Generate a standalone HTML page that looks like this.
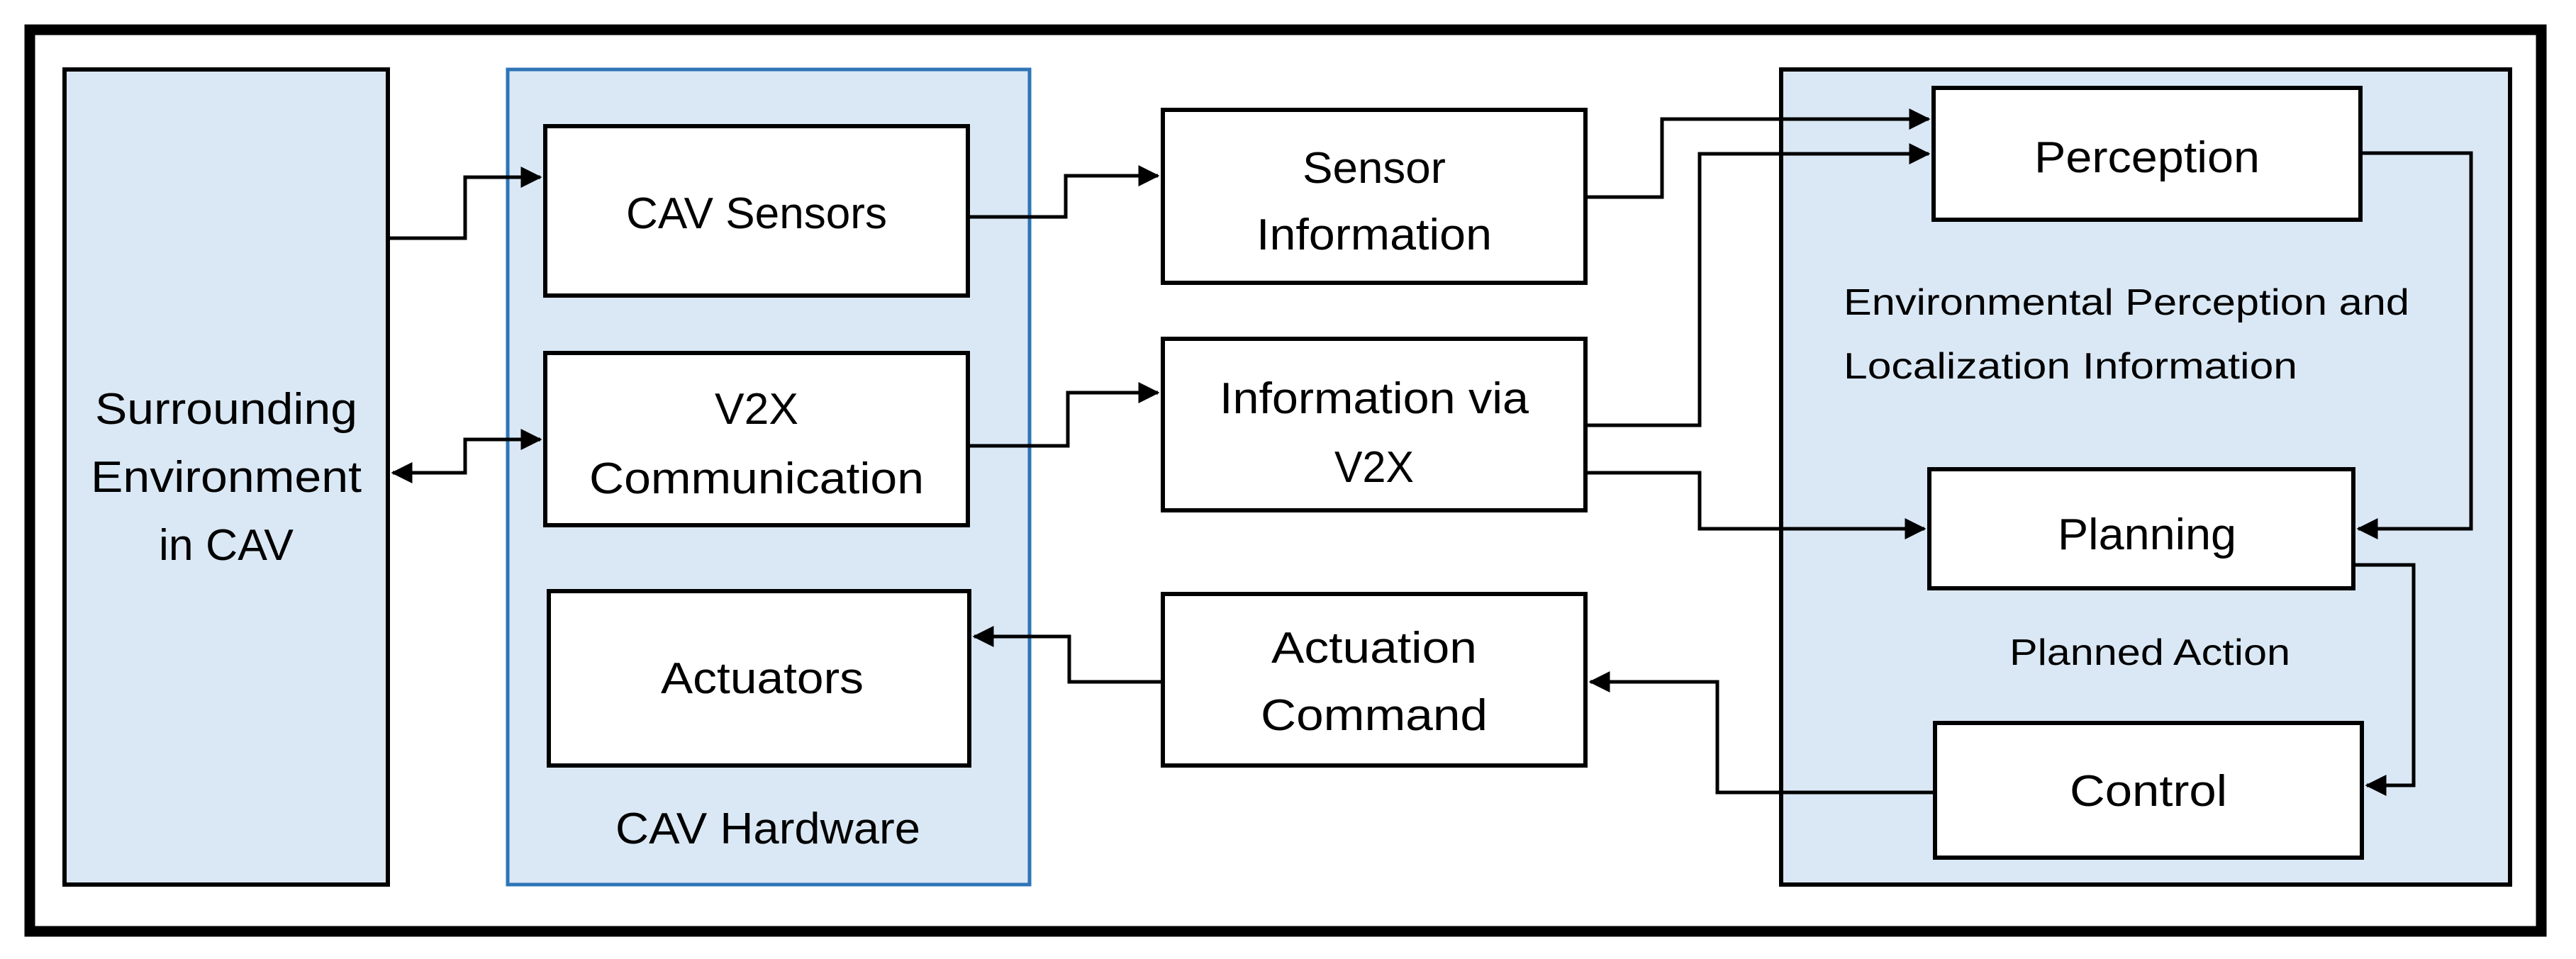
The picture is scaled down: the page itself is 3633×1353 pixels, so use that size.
<!DOCTYPE html>
<html><head><meta charset="utf-8"><style>
html,body{margin:0;padding:0;background:#fff;}
svg{display:block;}
text{font-family:"Liberation Sans",sans-serif;fill:#000;}
</style></head><body>
<svg width="3633" height="1353" viewBox="0 0 3633 1353" xmlns="http://www.w3.org/2000/svg">
<defs>
<marker id="a" markerWidth="6" markerHeight="6" refX="5.5" refY="3" orient="auto" markerUnits="strokeWidth">
<path d="M0,0 L6,3 L0,6 z" fill="#000"/></marker>
<marker id="s" markerWidth="6" markerHeight="6" refX="0.5" refY="3" orient="auto" markerUnits="strokeWidth">
<path d="M6,0 L0,3 L6,6 z" fill="#000"/></marker>
</defs>
<rect x="0" y="0" width="3633" height="1353" fill="#fff"/>
<rect x="42" y="42" width="3542" height="1272" fill="none" stroke="#000" stroke-width="15"/>

<rect x="91" y="98" width="456" height="1150" fill="#dae8f5" stroke="#000" stroke-width="6"/>
<rect x="716" y="98" width="736" height="1150" fill="#dae8f5" stroke="#2e75b6" stroke-width="5"/>
<rect x="2512" y="98" width="1028" height="1150" fill="#dae8f5" stroke="#000" stroke-width="6"/>

<g fill="#fff" stroke="#000" stroke-width="6">
<rect x="769" y="178" width="596" height="239"/>
<rect x="769" y="498" width="596" height="243"/>
<rect x="774" y="834" width="593" height="246"/>
<rect x="1640" y="155" width="596" height="244"/>
<rect x="1640" y="478" width="596" height="242"/>
<rect x="1640" y="838" width="596" height="242"/>
<rect x="2727" y="124" width="602" height="186"/>
<rect x="2721" y="662" width="598" height="168"/>
<rect x="2729" y="1020" width="602" height="190"/>
</g>

<g fill="none" stroke="#000" stroke-width="5">
<polyline points="547,336 656,336 656,250 762,250" marker-end="url(#a)"/>
<polyline points="554,667 656,667 656,620 762,620" marker-start="url(#s)" marker-end="url(#a)"/>
<polyline points="1365,306 1503,306 1503,248 1633,248" marker-end="url(#a)"/>
<polyline points="1365,629 1506,629 1506,554 1633,554" marker-end="url(#a)"/>
<polyline points="2236,278 2344,278 2344,168 2720,168" marker-end="url(#a)"/>
<polyline points="2236,600 2397,600 2397,217 2720,217" marker-end="url(#a)"/>
<polyline points="2236,667 2397,667 2397,746 2714,746" marker-end="url(#a)"/>
<polyline points="3329,216 3485,216 3485,746 3326,746" marker-end="url(#a)"/>
<polyline points="3319,797 3404,797 3404,1108 3338,1108" marker-end="url(#a)"/>
<polyline points="2729,1118 2422,1118 2422,962 2243,962" marker-end="url(#a)"/>
<polyline points="1640,962 1508,962 1508,898 1374,898" marker-end="url(#a)"/>
</g>

<g font-size="62" text-anchor="middle">
<text x="319" y="598" textLength="370" lengthAdjust="spacingAndGlyphs">Surrounding</text>
<text x="319" y="694" textLength="382" lengthAdjust="spacingAndGlyphs">Environment</text>
<text x="319" y="790" textLength="190" lengthAdjust="spacingAndGlyphs">in CAV</text>
<text x="1067" y="322" textLength="368" lengthAdjust="spacingAndGlyphs">CAV Sensors</text>
<text x="1067" y="598" textLength="118" lengthAdjust="spacingAndGlyphs">V2X</text>
<text x="1067" y="696" textLength="472" lengthAdjust="spacingAndGlyphs">Communication</text>
<text x="1075" y="978" textLength="286" lengthAdjust="spacingAndGlyphs">Actuators</text>
<text x="1083" y="1190" textLength="430" lengthAdjust="spacingAndGlyphs">CAV Hardware</text>
<text x="1938" y="258" textLength="202" lengthAdjust="spacingAndGlyphs">Sensor</text>
<text x="1938" y="352" textLength="332" lengthAdjust="spacingAndGlyphs">Information</text>
<text x="1938" y="583" textLength="436" lengthAdjust="spacingAndGlyphs">Information via</text>
<text x="1938" y="680" textLength="112" lengthAdjust="spacingAndGlyphs">V2X</text>
<text x="1938" y="935" textLength="290" lengthAdjust="spacingAndGlyphs">Actuation</text>
<text x="1938" y="1030" textLength="320" lengthAdjust="spacingAndGlyphs">Command</text>
<text x="3028" y="243" textLength="318" lengthAdjust="spacingAndGlyphs">Perception</text>
<text x="3028" y="775" textLength="252" lengthAdjust="spacingAndGlyphs">Planning</text>
<text x="3030" y="1137" textLength="222" lengthAdjust="spacingAndGlyphs">Control</text>
</g>
<g font-size="52">
<text x="2600" y="444" textLength="798" lengthAdjust="spacingAndGlyphs">Environmental Perception and</text>
<text x="2600" y="534" textLength="640" lengthAdjust="spacingAndGlyphs">Localization Information</text>
<text x="2834" y="938" textLength="396" lengthAdjust="spacingAndGlyphs">Planned Action</text>
</g>
</svg>
</body></html>
